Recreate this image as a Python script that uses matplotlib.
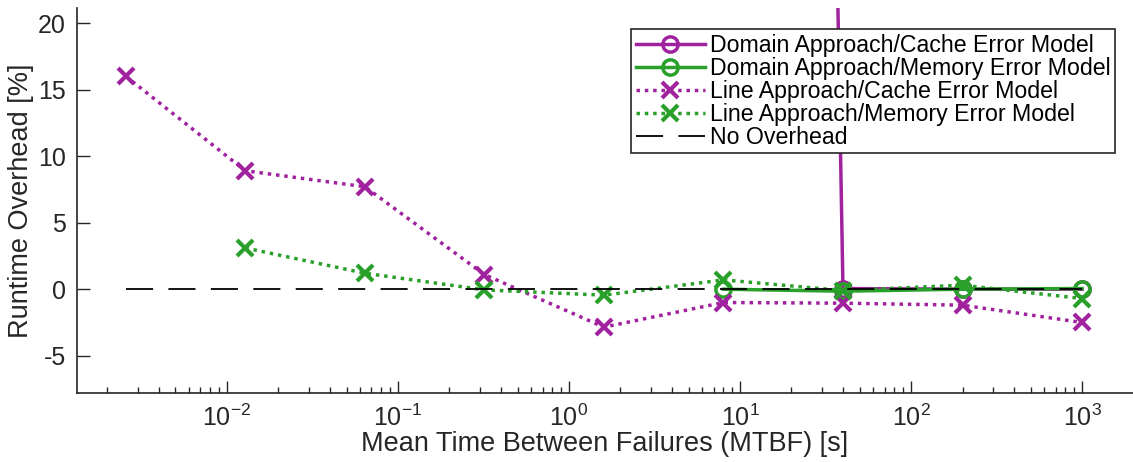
import matplotlib.pyplot as plt
import numpy as np

plt.rcParams['font.family'] = ['Liberation Sans', 'DejaVu Sans']
plt.rcParams['axes.unicode_minus'] = False

# MTBF values [s]
mtbf = [0.00256, 0.0128, 0.064, 0.32, 1.6, 8, 40, 200, 1000]

domain_cache = [np.nan, np.nan, np.nan, np.nan, np.nan, 500.0, 0.05, 0.0, 0.0]
domain_memory = [np.nan, np.nan, np.nan, np.nan, np.nan, 0.0, -0.15, 0.0, 0.05]
line_cache = [16.0, 8.9, 7.7, 1.1, -2.85, -1.0, -1.05, -1.2, -2.5]
line_memory = [np.nan, 3.1, 1.2, -0.05, -0.45, 0.7, -0.1, 0.3, -0.7]
no_overhead = [0, 0, 0, 0, 0, 0, 0, 0, 0]

magenta = '#a0229f'
green = '#28a02a'

fig = plt.figure(figsize=(11.33, 4.62), dpi=100)
ax = fig.add_axes([77/1133, (462-393)/462, (1133-77)/1133, (393-8)/462])

ax.plot(mtbf, domain_cache, color=magenta, lw=2.5, marker='o', ms=11,
        mfc='none', mew=2.5, label='Domain Approach/Cache Error Model')
ax.plot(mtbf, domain_memory, color=green, lw=2.5, marker='o', ms=11,
        mfc='none', mew=2.5, label='Domain Approach/Memory Error Model')
ax.plot(mtbf, line_cache, color=magenta, lw=2.5, ls=(0, (1, 1.4)), marker='x',
        ms=11, mew=3, label='Line Approach/Cache Error Model')
ax.plot(mtbf, line_memory, color=green, lw=2.5, ls=(0, (1, 1.4)), marker='x',
        ms=11, mew=3, label='Line Approach/Memory Error Model')
ax.plot(mtbf, no_overhead, color='black', lw=1.3, ls=(0, (15, 8.5)),
        label='No Overhead')

ax.set_xscale('log')
ax.set_xlim(10**-2.877, 10**3.298)
ax.set_ylim(-7.8, 21.13)
ax.set_yticks([-5, 0, 5, 10, 15, 20])
ax.set_xticks([1e-2, 1e-1, 1e0, 1e1, 1e2, 1e3])

for s in ['top', 'right']:
    ax.spines[s].set_visible(False)
for s in ['left', 'bottom']:
    ax.spines[s].set_linewidth(1.2)
    ax.spines[s].set_color('#262626')

ax.tick_params(which='major', direction='in', length=9, width=1, labelsize=18,
               colors='#262626', pad=8)
ax.tick_params(which='minor', direction='in', length=4.5, width=1, colors='#262626')
ax.tick_params(axis='y', which='minor', left=False)

ax.set_xlabel('Mean Time Between Failures (MTBF) [s]', fontsize=19.5, color='#262626',
              labelpad=0)
ax.set_ylabel('Runtime Overhead [%]', fontsize=19.5, color='#262626', labelpad=3)

leg = ax.legend(loc='upper right', bbox_to_anchor=(0.983, 0.945), borderaxespad=0,
                fontsize=16.7, fancybox=False, framealpha=1, edgecolor='#262626',
                handlelength=3.0, handletextpad=0.2, labelspacing=0.0,
                borderpad=0.2)
leg.get_frame().set_linewidth(1.2)

plt.savefig('out.png', dpi=100)
